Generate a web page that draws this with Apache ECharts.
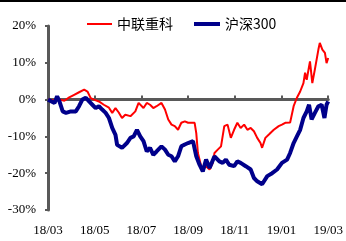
<!DOCTYPE html>
<html>
<head>
<meta charset="utf-8">
<script src="https://cdn.jsdelivr.net/npm/echarts@6/dist/echarts.min.js"></script>
<style>
  html, body { margin: 0; padding: 0; background: #fff; }
  #main { width: 346px; height: 241px; }
</style>
</head>
<body>
<div id="main"></div>
<script>
// x 为距 2018/03 的月数
var monthLabels = ["18/03", "18/05", "18/07", "18/09", "18/11", "19/01", "19/03"];

var zlzkX = [0, 0.28, 0.49, 0.70, 0.91, 1.12, 1.33, 1.55, 1.69, 1.83, 1.97, 2.18, 2.39, 2.61, 2.75, 2.89,
  3.03, 3.17, 3.31, 3.53, 3.74, 3.88, 3.95, 4.09, 4.23, 4.37, 4.51, 4.65, 4.86, 5.01, 5.15, 5.29,
  5.43, 5.57, 5.71, 5.86, 6.00, 6.28, 6.35, 6.42, 6.56, 6.63, 6.77, 6.92, 7.06, 7.13, 7.27, 7.41,
  7.55, 7.69, 7.83, 7.97, 8.11, 8.25, 8.40, 8.54, 8.68, 8.82, 8.96, 9.10, 9.17, 9.31, 9.46, 9.67,
  9.88, 10.02, 10.16, 10.37, 10.52, 10.66, 10.80, 10.94, 11.01, 11.08, 11.22, 11.32, 11.43, 11.58,
  11.64, 11.75, 11.86, 11.93, 12.00];
var zlzkY = [0, -0.2, 0, -0.3, 0.6, 1.3, 2.0, 2.7, 2.2, 0.4, 0, -0.5, -1.4, -2.2, -3.6, -2.3,
  -3.5, -5.0, -4.1, -4.5, -3.2, -0.9, -0.5, -2.3, -0.9, -1.4, -2.3, -1.8, -0.9, -2.7, -5.4, -6.8,
  -7.2, -8.2, -6.3, -5.9, -6.3, -6.3, -9.1, -14.5, -18.1, -19.0, -18.1, -19.0, -17.2, -14.5, -13.6, -12.7,
  -7.2, -6.8, -10.4, -8.2, -6.3, -7.7, -6.8, -8.2, -7.7, -8.6, -10.4, -11.8, -13.1, -10.4, -9.5, -8.2,
  -7.2, -6.8, -6.3, -6.2, -1.8, 0.5, 2.2, 4.5, 7.3, 5.4, 10.4, 4.5, 8.2, 13.6,
  15.4, 13.6, 12.7, 9.9, 11.3];

var hs300X = [0, 0.28, 0.39, 0.49, 0.63, 0.77, 0.98, 1.19, 1.33, 1.47, 1.62, 1.76, 1.90, 2.04, 2.18, 2.32,
  2.47, 2.61, 2.75, 2.89, 2.96, 3.03, 3.17, 3.38, 3.53, 3.67, 3.81, 3.95, 4.09, 4.23, 4.37, 4.51,
  4.65, 4.86, 5.01, 5.15, 5.29, 5.43, 5.57, 5.71, 5.86, 6.00, 6.21, 6.35, 6.49, 6.63, 6.77, 6.92,
  7.13, 7.34, 7.48, 7.62, 7.76, 7.97, 8.11, 8.25, 8.47, 8.68, 8.82, 8.96, 9.17, 9.39, 9.60, 9.81,
  10.02, 10.24, 10.37, 10.52, 10.66, 10.80, 10.94, 11.08, 11.18, 11.29, 11.43, 11.58, 11.72, 11.84,
  11.93, 12.00];
var hs300Y = [0, -0.9, 0.9, -0.5, -3.2, -3.6, -3.2, -3.2, -1.8, 0, 0.5, -0.5, -1.4, -2.3, -1.8, -2.7,
  -3.6, -5.0, -7.7, -9.6, -12.3, -12.7, -13.1, -11.8, -10.4, -10.0, -8.2, -10.0, -11.3, -14.1, -13.1, -15.0,
  -14.1, -12.7, -13.6, -15.0, -15.4, -16.8, -15.4, -12.7, -12.2, -11.8, -11.3, -15.4, -17.7, -19.5, -16.3, -18.6,
  -15.4, -16.8, -17.2, -16.3, -17.7, -18.1, -16.8, -17.2, -18.1, -19.0, -21.3, -22.2, -23.0, -20.8, -20.0, -19.0,
  -17.2, -16.3, -14.5, -11.8, -10.0, -8.2, -5.0, -3.2, -1.4, -5.4, -3.6, -1.8, -1.4, -5.0,
  -1.4, -0.5];

function pairs(xs, ys) {
  var out = [];
  for (var i = 0; i < xs.length; i++) out.push([xs[i], ys[i]]);
  return out;
}

var chart = echarts.init(document.getElementById("main"));
var axisColor = "#595959";
var serif = "Liberation Serif";
var legendText = { fontFamily: "Noto Sans CJK SC", fontSize: 14, color: "#000" };

var option = {
  animation: false,
  backgroundColor: "#fff",
  graphic: [
    { type: "rect", left: 0, top: 0, shape: { width: 346, height: 2 }, style: { fill: "#000" } }
  ],
  legend: [
    {
      left: 82,
      top: 12,
      icon: "rect",
      itemWidth: 25,
      itemHeight: 2,
      textStyle: legendText,
      data: ["中联重科"]
    },
    {
      left: 189,
      top: 12,
      icon: "rect",
      itemWidth: 26,
      itemHeight: 4,
      textStyle: legendText,
      data: ["沪深300"]
    }
  ],
  grid: { left: 48, right: 15, top: 26, bottom: 31 },
  xAxis: [
    {
      type: "value",
      min: 0,
      max: 12,
      interval: 2,
      axisLine: { show: false, onZero: false },
      axisTick: { show: false },
      splitLine: { show: false },
      axisLabel: {
        margin: 14,
        fontFamily: serif,
        fontSize: 13,
        color: "#000",
        formatter: function (v) { return monthLabels[v / 2]; }
      }
    },
    {
      // 0% 横线
      type: "value",
      position: "bottom",
      min: 0,
      max: 12,
      interval: 2,
      axisLine: { show: true, onZero: true, lineStyle: { color: axisColor, width: 3 } },
      axisTick: { show: true, inside: true, length: 4, lineStyle: { color: axisColor, width: 2 } },
      axisLabel: { show: false },
      splitLine: { show: false }
    }
  ],
  yAxis: {
    type: "value",
    min: -30,
    max: 20,
    interval: 10,
    axisLine: { show: true, lineStyle: { color: axisColor, width: 3 } },
    axisTick: { show: true, length: 3, lineStyle: { color: axisColor, width: 2 } },
    splitLine: { show: false },
    axisLabel: {
      margin: 12,
      fontFamily: serif,
      fontSize: 13,
      color: "#000",
      formatter: "{value}%"
    }
  },
  series: [
    {
      name: "中联重科",
      type: "line",
      xAxisIndex: 0,
      symbol: "none",
      color: "#ff0000",
      lineStyle: { color: "#ff0000", width: 2 },
      data: pairs(zlzkX, zlzkY)
    },
    {
      name: "沪深300",
      type: "line",
      xAxisIndex: 0,
      symbol: "none",
      color: "#00008b",
      lineStyle: { color: "#00008b", width: 4 },
      data: pairs(hs300X, hs300Y)
    }
  ]
};
chart.setOption(option);
window.onresize = function () {
  chart.resize();
};
</script>
</body>
</html>
